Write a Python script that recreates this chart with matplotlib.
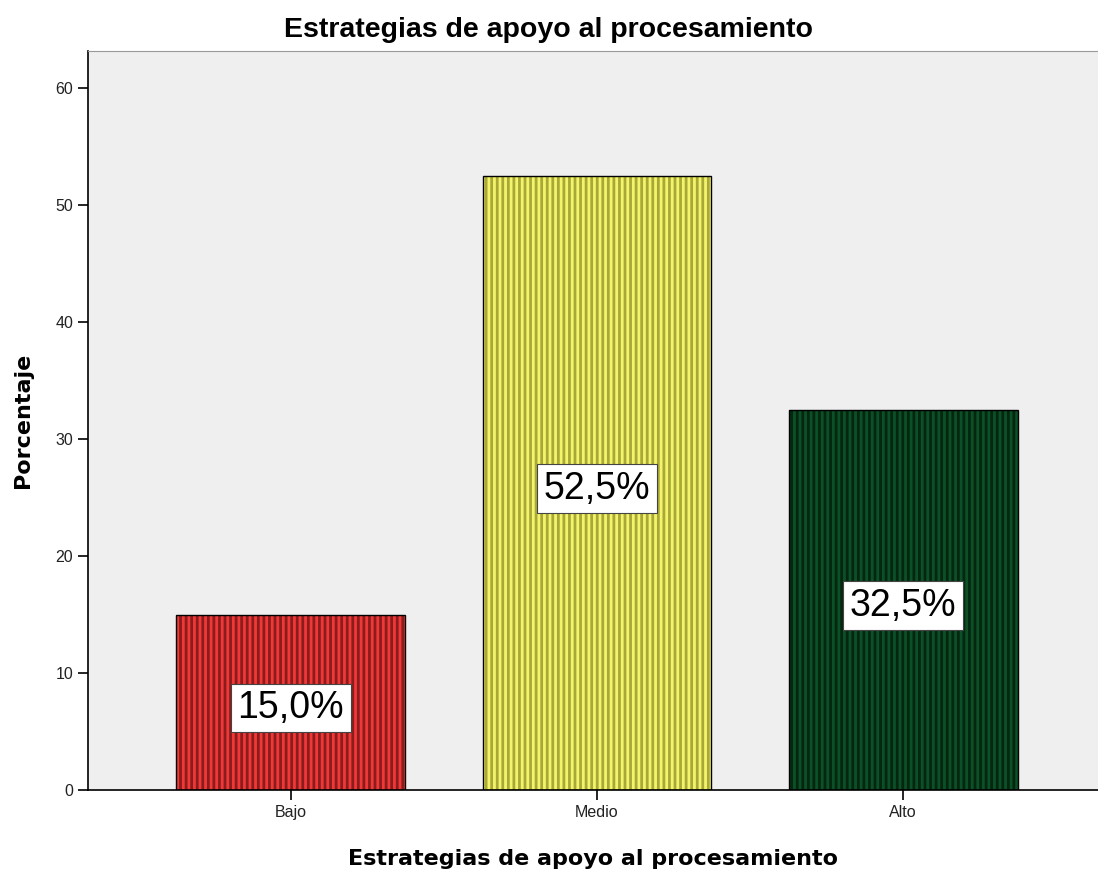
import matplotlib.pyplot as plt

plt.rcParams['font.family'] = ['Liberation Sans', 'DejaVu Sans']
plt.rcParams['hatch.linewidth'] = 2.0

categorias = ["Bajo", "Medio", "Alto"]
porcentajes = [15.0, 52.5, 32.5]
etiquetas = ["15,0%", "52,5%", "32,5%"]
colores = ["#f03838", "#f4f46c", "#0b5128"]
rayas = ["#8a1c1c", "#a8a838", "#06260f"]
yticks = [0, 10, 20, 30, 40, 50, 60]

fig = plt.figure(figsize=(10.98, 8.72), dpi=100)
ax = fig.add_axes([0.0801, 0.094, 0.92, 0.8475])
ax.set_facecolor("#efefef")

x = list(range(len(categorias)))
# relleno con rayas verticales, y luego el borde negro encima
ax.bar(x, porcentajes, width=0.748, color=colores, edgecolor=rayas,
       linewidth=0, hatch="|||")
ax.bar(x, porcentajes, width=0.748, fill=False, edgecolor="black", linewidth=1.0)

for i in range(len(x)):
    ax.annotate(etiquetas[i], (x[i], porcentajes[i] / 2), xytext=(0, -4),
                textcoords="offset points", ha="center", va="center",
                fontsize=27, color="black",
                bbox=dict(boxstyle="square,pad=0.17", facecolor="white",
                          edgecolor="#444444", linewidth=0.8))

ax.set_xlim(-0.663, 2.637)
ax.set_ylim(0, 63.2)
ax.set_xticks(x)
ax.set_xticklabels(categorias)
ax.set_yticks(yticks)
ax.tick_params(axis="both", labelsize=11.5, labelcolor="#222222", direction="out",
               length=7, width=1.2)

ax.spines["right"].set_visible(False)
ax.spines["top"].set_color("#999999")
ax.spines["left"].set_linewidth(1.2)
ax.spines["bottom"].set_linewidth(1.2)

ax.set_ylabel("Porcentaje", fontsize=16, fontweight="bold", labelpad=16,
              family="DejaVu Sans")
ax.set_xlabel("Estrategias de apoyo al procesamiento", fontsize=16,
              fontweight="bold", labelpad=21, family="DejaVu Sans")
fig.text(0.5, 0.966, "Estrategias de apoyo al procesamiento", ha="center",
         va="center", fontsize=20.5, fontweight="bold")

fig.savefig("out.png", dpi=100)
